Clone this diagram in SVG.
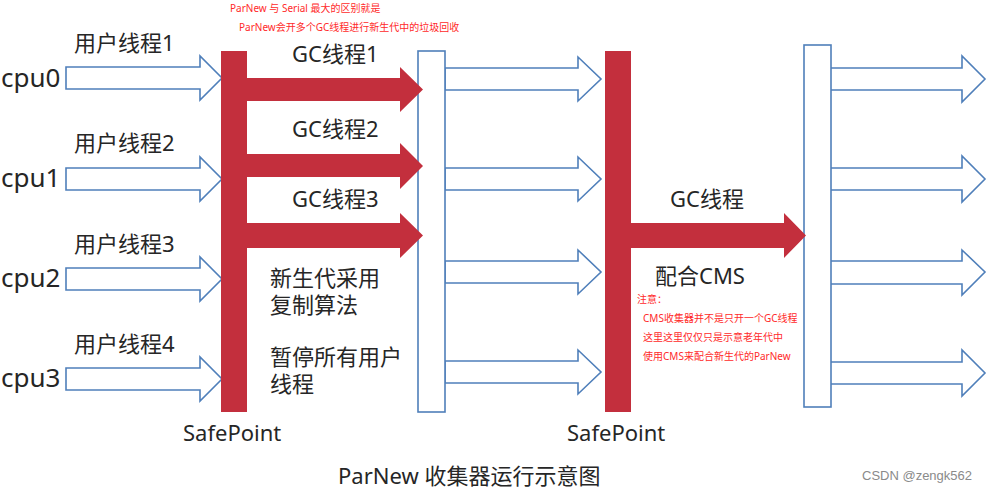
<svg xmlns="http://www.w3.org/2000/svg" width="988" height="492" viewBox="0 0 988 492">
<style>
.t{font-family:"Noto Sans","Noto Sans CJK SC",sans-serif;fill:#262626;font-size:22px}
.cj{font-family:"Liberation Sans","Noto Sans CJK SC",sans-serif}
.cpu{font-size:26px}
.note{font-family:"Noto Sans","Noto Sans CJK SC",sans-serif;fill:#ff2a2a;font-size:10px}
.ua{fill:#fff;stroke:#4f7fba;stroke-width:1.6;stroke-linejoin:miter}
.bar{fill:#fff;stroke:#4f7fba;stroke-width:1.6}
.red{fill:#c32f3d}
.wm{font-family:"Liberation Sans",sans-serif;fill:#8a8a8a;font-size:13px}
</style>
<rect width="988" height="492" fill="#fff"/>
<g id="connectors">
  <polygon class="ua" points="66,67 200,67 200,56 222,78 200,100 200,89 66,89"/>
  <polygon class="ua" points="66,168 200,168 200,157 222,179 200,201 200,190 66,190"/>
  <polygon class="ua" points="66,268 200,268 200,257 222,279 200,301 200,290 66,290"/>
  <polygon class="ua" points="66,368 200,368 200,357 222,379 200,401 200,390 66,390"/>
  <polygon class="ua" points="445,68 578,68 578,57 601,79 578,101 578,90 445,90"/>
  <polygon class="ua" points="445,168 578,168 578,157 601,179 578,201 578,190 445,190"/>
  <polygon class="ua" points="445,261 578,261 578,250 601,272 578,294 578,283 445,283"/>
  <polygon class="ua" points="445,361 578,361 578,350 601,372 578,394 578,383 445,383"/>
  <polygon class="ua" points="830,68 962,68 962,56 985,79 962,102 962,90 830,90"/>
  <polygon class="ua" points="830,168 962,168 962,156 985,179 962,202 962,190 830,190"/>
  <polygon class="ua" points="830,261 962,261 962,250 985,272 962,295 962,284 830,284"/>
  <polygon class="ua" points="830,362 962,362 962,350 985,373 962,396 962,384 830,384"/>
</g>
<g id="bar-mid">
  <rect class="bar" x="418" y="51" width="27" height="361"/>
</g>
<g id="bar-right">
  <rect class="bar" x="804" y="45" width="27" height="362"/>
</g>
<g id="safepoint1">
  <rect class="red" x="221" y="51" width="26" height="361"/>
  <polygon class="red" points="246,78 400,78 400,67 423,89.5 400,112 400,101 246,101"/>
  <polygon class="red" points="246,154 400,154 400,143 423,166 400,189 400,177 246,177"/>
  <polygon class="red" points="246,223 400,223 400,213 423,235.5 400,258 400,248 246,248"/>
  <text class="t" x="183" y="441">SafePoint</text>
</g>
<g id="safepoint2">
  <rect class="red" x="605" y="51" width="26" height="361"/>
  <polygon class="red" points="630,223 784,223 784,213 806,235.5 784,258 784,248 630,248"/>
  <text class="t" x="567" y="441">SafePoint</text>
</g>
<g id="labels">
  <text class="t cpu" x="1" y="87">cpu0</text>
  <text class="t cpu" x="1" y="187">cpu1</text>
  <text class="t cpu" x="1" y="287">cpu2</text>
  <text class="t cpu" x="1" y="387">cpu3</text>
  <text class="t" x="74" y="51">用户线程1</text>
  <text class="t" x="74" y="151">用户线程2</text>
  <text class="t" x="74" y="252">用户线程3</text>
  <text class="t" x="74" y="352">用户线程4</text>
  <text class="t" x="292" y="62">GC线程1</text>
  <text class="t" x="292" y="137">GC线程2</text>
  <text class="t" x="292" y="207">GC线程3</text>
  <text class="t cj" x="270" y="286">新生代采用</text>
  <text class="t cj" x="270" y="313">复制算法</text>
  <text class="t cj" x="270" y="365">暂停所有用户</text>
  <text class="t cj" x="270" y="392">线程</text>
  <text class="t" x="670" y="207">GC线程</text>
  <text class="t" x="655" y="284">配合CMS</text>
  <text class="t" x="338" y="484">ParNew 收集器运行示意图</text>
</g>
<g id="notes">
  <text class="note" x="230" y="12">ParNew 与 Serial 最大的区别就是</text>
  <text class="note" x="239" y="31">ParNew会开多个GC线程进行新生代中的垃圾回收</text>
  <text class="note" x="637" y="303">注意：</text>
  <text class="note" x="643" y="322">CMS收集器并不是只开一个GC线程</text>
  <text class="note" x="643" y="341">这里这里仅仅只是示意老年代中</text>
  <text class="note" x="643" y="360">使用CMS来配合新生代的ParNew</text>
  <text class="wm" x="862" y="480">CSDN @zengk562</text>
</g>
</svg>
